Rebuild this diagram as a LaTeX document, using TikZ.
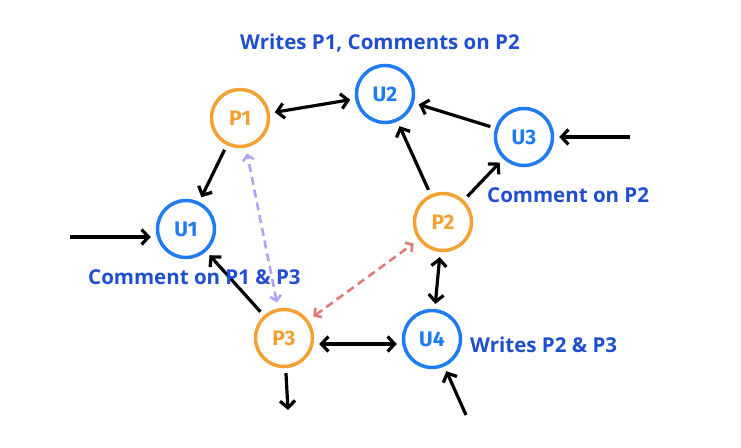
\documentclass[tikz,border=0pt]{standalone}
\usepackage{fontspec}
\setmainfont{Open Sans}
\newfontfamily\handfont{Fira Sans}
\usetikzlibrary{arrows.meta}
\definecolor{postorange}{HTML}{F5A033}
\definecolor{userblue}{HTML}{1E7BF2}
\definecolor{noteblue}{HTML}{1F4FCF}
\definecolor{hintpurple}{HTML}{B4A0F4}
\definecolor{hintred}{HTML}{E07B7B}
\tikzset{
  post/.style={circle,draw=postorange,text=postorange,line width=3.5pt,minimum size=57pt,inner sep=0pt,font=\handfont\bfseries\fontsize{21}{21}\selectfont},
  user/.style={circle,draw=userblue,text=userblue,line width=3.5pt,minimum size=57pt,inner sep=0pt,font=\handfont\bfseries\fontsize{21}{21}\selectfont},
  link/.style={line width=3.2pt,-{Straight Barb[length=7pt,width=15pt]},shorten >=5pt,shorten <=5pt},
  twoway/.style={link,{Straight Barb[length=7pt,width=15pt]}-{Straight Barb[length=7pt,width=15pt]}},
  hint/.style={line width=2.6pt,dash pattern=on 8pt off 5pt,{Straight Barb[length=5pt,width=11pt]}-{Straight Barb[length=5pt,width=11pt]},shorten >=6pt,shorten <=6pt},
  note/.style={text=noteblue,font=\bfseries\fontsize{20.5}{20.5}\selectfont,inner sep=0pt}
}
\begin{document}
\begin{tikzpicture}[x=1pt,y=-1pt]
    \useasboundingbox (0,0) rectangle (741,447);
    % posts and users
    \node[post] (p1) at (240,118) {P1};
    \node[post] (p2) at (443,222) {P2};
    \node[post] (p3) at (284,338) {P3};
    \node[user] (u1) at (186,229) {U1};
    \node[user] (u2) at (385,94) {U2};
    \node[user] (u3) at (524,137) {U3};
    \node[user] (u4) at (432,339) {U4};
    % free ends
    \coordinate (inu1) at (70,237);
    \coordinate (inu3) at (630,137);
    \coordinate (inu4) at (466,415);
    \coordinate (outp3) at (288,410);
    % links
    \draw[link] (p1) -- (u1);
    \draw[twoway] (p1) -- (u2);
    \draw[link] (u3) -- (u2);
    \draw[link] (p2) -- (u2);
    \draw[link] (p2) -- (u3);
    \draw[link] (p3) -- (u1);
    \draw[twoway] (p3.east |- 0,344) -- (u4.west |- 0,344);
    \draw[twoway] (p2) -- (u4);
    \draw[link,shorten <=0pt] (inu1) -- (inu1 -| u1.west);
    \draw[link,shorten <=0pt] (inu3) -- (u3);
    \draw[link,shorten <=0pt] (inu4) -- (u4);
    \draw[link,shorten >=0pt] (p3) -- (outp3);
    %\draw[loosely dotted] (0,0) grid (741,447);
    \draw[hint,draw=hintpurple] (p3) -- (p1);
    \draw[hint,draw=hintred] (p3) -- (p2);
    % notes
    \node[note] (n2) at (380,43) {Writes P1, Comments on P2};
    \node[note,anchor=west] (n3) at (487,195) {Comment on P2};
    \node[note,anchor=west] (n1) at (88,277) {Comment on P1 \& P3};
    \node[note,anchor=west] (n4) at (470,345) {Writes P2 \& P3};
\end{tikzpicture}
\end{document}
